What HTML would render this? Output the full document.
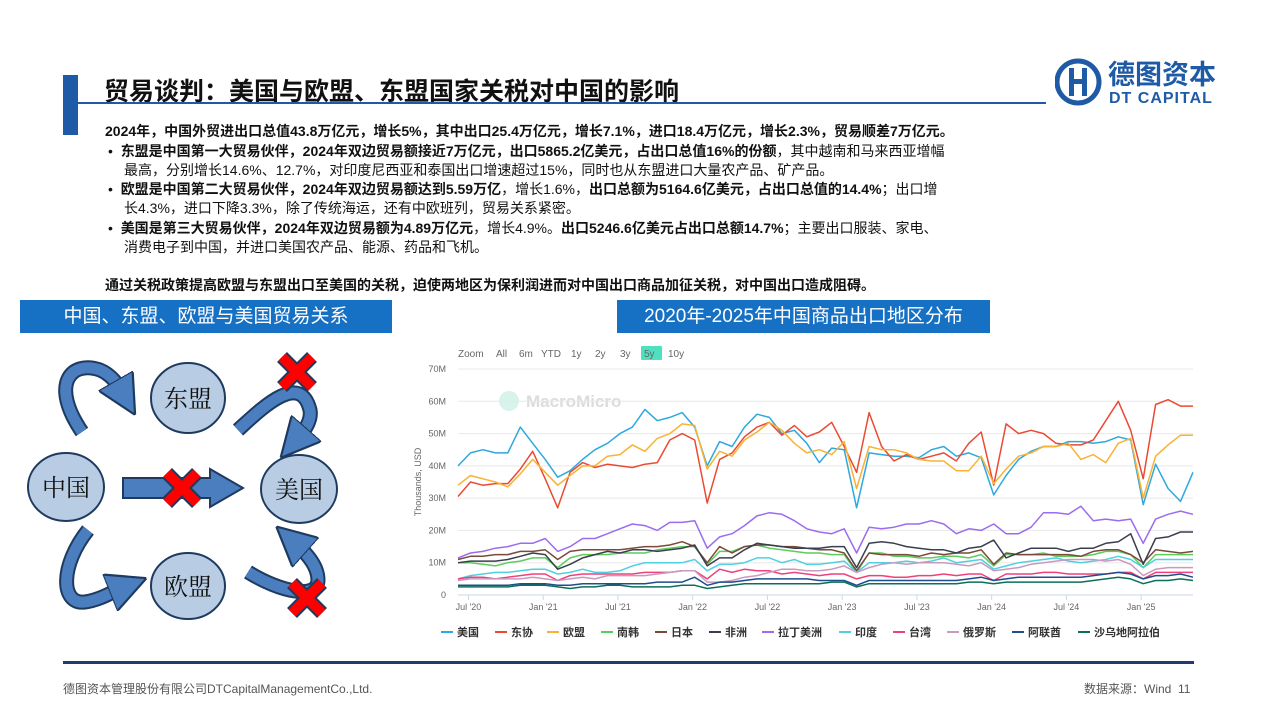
<!DOCTYPE html>
<html><head><meta charset="utf-8">
<style>
body{margin:0;width:1280px;height:720px;position:relative;background:#fff;overflow:hidden;font-family:"Liberation Sans","Noto Sans CJK SC",sans-serif;}
.abs{position:absolute;}
.t{position:absolute;font-size:14px;color:#111;white-space:nowrap;}
.b{font-weight:bold;}
.hdr{position:absolute;background:#1670c4;color:#fff;font-size:19px;text-align:center;line-height:33px;height:33px;top:300px;}
</style></head><body>
<div class="abs" style="left:63px;top:75px;width:15px;height:60px;background:#1f5aa6"></div>
<div class="abs" style="left:104px;top:72px;font-size:25px;font-weight:bold;color:#111;white-space:nowrap">贸易谈判：美国与欧盟、东盟国家关税对中国的影响</div>
<div class="abs" style="left:78px;top:102px;width:968px;height:2px;background:#1f5aa6"></div>
<svg class="abs" style="left:1055px;top:56px" width="170" height="52">
<circle cx="23" cy="26" r="21" fill="none" stroke="#1f5aa6" stroke-width="5"/>
<rect x="14" y="12" width="5" height="28" fill="#1f5aa6"/><rect x="27" y="12" width="5" height="28" fill="#1f5aa6"/><rect x="14" y="23" width="18" height="5" fill="#1f5aa6"/>
<text x="53" y="28" font-size="27" font-weight="bold" fill="#1f5aa6" font-family="Noto Sans CJK SC,sans-serif">德图资本</text>
<text x="54" y="47" font-size="16" font-weight="bold" fill="#1f5aa6" font-family="Liberation Sans,sans-serif" letter-spacing="1">DT CAPITAL</text>
</svg>
<div>
<div class="t b" style="left:105px;top:121px">2024年，中国外贸进出口总值43.8万亿元，增长5%，其中出口25.4万亿元，增长7.1%，进口18.4万亿元，增长2.3%，贸易顺差7万亿元。</div>
<div class="t" style="left:108px;top:141px">•&nbsp;&nbsp;<b>东盟是中国第一大贸易伙伴，2024年双边贸易额接近7万亿元，出口5865.2亿美元，占出口总值16%的份额</b>，其中越南和马来西亚增幅</div>
<div class="t" style="left:124px;top:160px">最高，分别增长14.6%、12.7%，对印度尼西亚和泰国出口增速超过15%，同时也从东盟进口大量农产品、矿产品。</div>
<div class="t" style="left:108px;top:179px">•&nbsp;&nbsp;<b>欧盟是中国第二大贸易伙伴，2024年双边贸易额达到5.59万亿</b>，增长1.6%，<b>出口总额为5164.6亿美元，占出口总值的14.4%</b>；出口增</div>
<div class="t" style="left:124px;top:198px">长4.3%，进口下降3.3%，除了传统海运，还有中欧班列，贸易关系紧密。</div>
<div class="t" style="left:108px;top:218px">•&nbsp;&nbsp;<b>美国是第三大贸易伙伴，2024年双边贸易额为4.89万亿元</b>，增长4.9%。<b>出口5246.6亿美元占出口总额14.7%</b>；主要出口服装、家电、</div>
<div class="t" style="left:124px;top:237px">消费电子到中国，并进口美国农产品、能源、药品和飞机。</div>
<div class="t b" style="left:105px;top:275px">通过关税政策提高欧盟与东盟出口至美国的关税，迫使两地区为保利润进而对中国出口商品加征关税，对中国出口造成阻碍。</div>
</div>
<div class="hdr" style="left:20px;width:372px">中国、东盟、欧盟与美国贸易关系</div>
<div class="hdr" style="left:617px;width:373px">2020年-2025年中国商品出口地区分布</div>

<svg class="abs" style="left:0;top:330px" width="400" height="320">
<defs><marker id="ah" markerWidth="3.6" markerHeight="3.6" refX="1.2" refY="1.8" orient="auto"><path d="M0,0 L3.6,1.8 L0,3.6 Z" fill="#4a7ebf" stroke="#1f3a5f" stroke-width="0.2"/></marker></defs>
<g fill="none" stroke-linecap="butt">
<g><path d="M82,102 C50,55 70,30 100,40 C112,45 118,55 122,62" stroke="#1f3a5f" stroke-width="15"/><path d="M82,102 C50,55 70,30 100,40 C112,45 118,55 122,62" stroke="#4a7ebf" stroke-width="11" marker-end="url(#ah)"/></g>
<g><path d="M238,100 C260,80 300,40 310,80 C312,90 305,100 298,108" stroke="#1f3a5f" stroke-width="15"/><path d="M238,100 C260,80 300,40 310,80 C312,90 305,100 298,108" stroke="#4a7ebf" stroke-width="11" marker-end="url(#ah)"/></g>
<g><path d="M88,200 C60,235 60,275 85,272 C100,270 112,262 122,258" stroke="#1f3a5f" stroke-width="15"/><path d="M88,200 C60,235 60,275 85,272 C100,270 112,262 122,258" stroke="#4a7ebf" stroke-width="11" marker-end="url(#ah)"/></g>
<g><path d="M248,242 C280,262 318,270 318,250 C318,235 305,222 296,214" stroke="#1f3a5f" stroke-width="15"/><path d="M248,242 C280,262 318,270 318,250 C318,235 305,222 296,214" stroke="#4a7ebf" stroke-width="11" marker-end="url(#ah)"/></g>
</g>
<path d="M123,148 L210,148 L210,139 L243,158 L210,177 L210,168 L123,168 Z" fill="#4a7ebf" stroke="#1f3a5f" stroke-width="2"/>
<g stroke="#1f3a5f" stroke-width="2" fill="#b8cce4" font-family="Liberation Serif,Noto Serif CJK SC,serif" font-size="24">
<g><ellipse cx="188" cy="68" rx="37" ry="35"/><text x="188" y="77" text-anchor="middle" fill="#111" stroke="none">东盟</text></g>
<g><ellipse cx="66" cy="157" rx="38" ry="34"/><text x="66" y="166" text-anchor="middle" fill="#111" stroke="none">中国</text></g>
<g><ellipse cx="299" cy="159" rx="38" ry="34"/><text x="299" y="168" text-anchor="middle" fill="#111" stroke="none">美国</text></g>
<g><ellipse cx="188" cy="256" rx="37" ry="33"/><text x="188" y="265" text-anchor="middle" fill="#111" stroke="none">欧盟</text></g>
</g>
<g stroke-linecap="butt">
<g transform="translate(182,158)"><path d="M-15,-15 L15,15 M15,-15 L-15,15" stroke="#1f3a5f" stroke-width="14"/><path d="M-15,-15 L15,15 M15,-15 L-15,15" stroke="#f00" stroke-width="10"/></g>
<g transform="translate(297,42)"><path d="M-15,-15 L15,15 M15,-15 L-15,15" stroke="#1f3a5f" stroke-width="14"/><path d="M-15,-15 L15,15 M15,-15 L-15,15" stroke="#f00" stroke-width="10"/></g>
<g transform="translate(307,268)"><path d="M-15,-15 L15,15 M15,-15 L-15,15" stroke="#1f3a5f" stroke-width="14"/><path d="M-15,-15 L15,15 M15,-15 L-15,15" stroke="#f00" stroke-width="10"/></g>
</g>
</svg>

<svg id="chart" class="abs" style="left:0;top:0" width="1280" height="720"></svg>

<div class="abs" style="left:63px;top:661px;width:1131px;height:3px;background:#1f3a6f"></div>
<div class="abs" style="left:63px;top:680px;font-size:12px;color:#555">德图资本管理股份有限公司DTCapitalManagementCo.,Ltd.</div>
<div class="abs" style="left:1084px;top:680px;font-size:12px;color:#555">数据来源：Wind&nbsp;&nbsp;11</div>

<script>
const yTicks=[0,10,20,30,40,50,60,70];
const yTickLabels=['0','10M','20M','30M','40M','50M','60M','70M'];
const xTickLabels=["Jul '20","Jan '21","Jul '21","Jan '22","Jul '22","Jan '23","Jul '23","Jan '24","Jul '24","Jan '25"];
const xTickIdx=[1,7,13,19,25,31,37,43,49,55];
const seriesNames=['美国','东协','欧盟','南韩','日本','非洲','拉丁美洲','印度','台湾','俄罗斯','阿联酋','沙乌地阿拉伯'];
const seriesColors=['#2ea8df','#ea4a33','#f9b233','#5ccc5c','#7a4a3a','#3a3f4e','#9a6cf0','#4fd0e0','#f0407a','#c99ac0','#1f4e8c','#0d6e5a'];
const usa=[40,44,45,44,44,52,47,42,36.5,38.5,42,45,47,50,52,57.5,54,55,56.5,52,40,47.5,46,52,56,55,50,51,47,41,45.5,45,27,44,43.5,43,43,42.5,45,46,43,44,42.5,31,37,42,44.5,46,46,47.5,47.5,47,47.5,49,48,28,40.5,33,29,38];
const asean=[30.5,35,34,34.5,34.5,39,44.5,36,27,38,41,39.5,40.5,40,39.5,40.5,41,48,50,48,28.5,42,44,49,52,53.5,49.5,52.5,49,50.5,53.5,46,38,56.5,46,41.5,43.5,42,43,44,41.5,47,50.5,34,53,50,51,50,47,46.5,46.5,48,54,60,51,36,59,60.5,58.5,58.5];
const eu=[34,37,36,35,33.5,37.5,42,38,34,37,40,40,43,43.5,46.5,44.5,48.5,50,53,52.5,39,44.5,43,48,50.5,53.5,51,47,44,45,43.5,47.5,33,46,45,45,44,42,41.5,41.5,38.5,38.5,43,34.5,39,43,44,46,46,47,42,43.5,41,47,48.5,30,43,46.5,49.5,49.5];
const korea=[10,10,9.5,9,10,10.5,11.5,11.5,8.5,11.5,12.5,12.5,12.5,13,13,13,14,14.5,15,15,9.5,13.5,13.5,15,15.5,14.5,14,13.5,13,13,12.5,12.5,7,13,13,12,12,11.5,11.5,12,12,11.5,12.5,9,12.5,12.5,12.5,13,12,12,12,12.5,13.5,13.5,12.5,8.5,12.5,12.5,12.5,12.5];
const japan=[11,12,12,12.5,12.5,13.5,13.5,14,11,13.5,14,14,14,14,14.5,15,15,15.5,16.5,15,10,15,13,15,15.5,15.5,15,15,14.5,14,14,13,7.5,13,12.5,12.5,12.5,12,13,12.5,13,13,14,9.5,13,12.5,12.5,12.5,12.5,12.5,12,13.5,14,14,12.5,10,14,13.5,13,13.5];
const africa=[10,10.5,10.5,10.5,11,12,13,12.5,8,9.5,11.5,12.5,13.5,13,14,14,13.5,14,14.5,15.5,9,11.5,11.5,14,16,15.5,15,14.5,14.5,14.5,15,15,8.5,16,16.5,16,15,14.5,14,14,13,14.5,15,17,11.5,13,14.5,14.5,14.5,13.5,14.5,14.5,16,16.5,19,9.5,17.5,18,19.5,19.5];
const latam=[11.5,13,13.5,14.5,15,16,16,17.5,13.5,15,17.5,17.5,19,20.5,22,21.5,20,22.5,22.5,23,14.5,18,19,21.5,24.5,25.5,25,23,20.5,19.5,19,20.5,13,21,20.5,21,22,22,23,22,19,20.5,20,22,19,19,21,25.5,25.5,25,27.5,23,23.5,23,23.5,16,23.5,25,26,25];
const india=[5,6,6.5,7,7,7.5,8,8,6.5,7,8,7,7,7.5,9,10,10,10,10,11,7.5,9.5,9.5,10,11.5,11.5,10,11,9.5,9.5,10,10.5,7,10,10,10,10.5,10,10.5,11.5,10,10.5,11,8,9,10,10.5,11,11.5,10.5,10,10.5,11,12,11,8.5,11,11,11,11];
const taiwan=[5,5.5,5.5,5,5.5,6,6.5,6.5,4.5,6,6.5,6.5,6.5,6.5,6.5,7,7,7,7.5,7.5,5,8,7,8,7.5,7.5,6.5,7,6.5,6,6.5,6.5,5,6,6,5.5,5.5,6,6,6.5,6,6.5,6.5,4.5,6.5,6.5,6.5,7,7,6.5,6.5,6.5,6.5,7,7,5,7,7,7,7];
const russia=[4.5,5,5,5,5,5,5.5,5,4.5,5,5.5,5,6,6,6,6,6.5,7,7.5,7.5,4,4,4.5,5.5,6,7,8,8,7.5,7.5,8,9,7,8.5,9.5,10,9.5,10,10,10,9.5,9,10,7.5,8,8.5,9.5,10,10.5,11,11,11,10.5,11,9.5,6,8,8.5,8.5,8.5];
const uae=[3,3,3,3,3,3.5,3.5,3.5,3,3,3.5,3.5,3.5,3.5,3.5,3.5,4,4,4,5.5,3,4,4,4.5,5,5,5,5,5,4.5,4.5,4.5,3,4.5,4.5,4.5,4.5,4.5,4.5,4.5,4.5,5,5.5,4.5,5,5.5,5.5,5.5,5.5,5.5,5.5,6,6.5,7,6.5,5,6,6,6.5,5.5];
const saudi=[2.5,2.5,2.5,2.5,2.5,3,3,3,2.5,2,2.5,2.5,3,3,2.5,2.5,2.5,2.5,3,3,2,2.5,3,3.5,3.5,3.5,3.5,3.5,3.5,3.5,4,4,2.5,3.5,3.5,3.5,3.5,3.5,3.5,3.5,3.5,4,4,3.5,4,4,4,4,4,4,4,4.5,5,5.5,5,3.5,4.5,4.5,5,4.5];
const seriesData=[usa,asean,eu,korea,japan,africa,latam,india,taiwan,russia,uae,saudi];

const NS='http://www.w3.org/2000/svg';
const svg=document.getElementById('chart');
const X0=458,X1=1193,Y0=595,Y70=369,N=60;
const xs=i=>X0+(X1-X0)*i/(N-1);
const ys=v=>Y0-(Y0-Y70)*v/70;
function mk(tag,attrs,parent){const e=document.createElementNS(NS,tag);for(const k in attrs)e.setAttribute(k,attrs[k]);(parent||svg).appendChild(e);return e;}

const zb=['Zoom','All','6m','YTD','1y','2y','3y','5y','10y'];
const zx=[458,496,519,541,571,595,620,644,668];
zb.forEach((t,i)=>{
  if(t==='5y'){const r=mk('rect',{x:zx[i]-3,y:346,width:21,height:14,fill:'#4fe0c0',rx:1});
  
  }
  const e=mk('text',{x:zx[i],y:357,'font-size':10,fill:'#666'});e.textContent=t;
  
  
});
const wm=mk('g',{});


mk('circle',{cx:509,cy:401,r:10,fill:'#d8f3ec'},wm);
const wt=mk('text',{x:526,y:407,'font-size':17,fill:'#dcdcdc','font-weight':'bold'},wm);wt.textContent='MacroMicro';

yTicks.forEach((v,i)=>{
  const g=mk('line',{x1:X0,x2:X1,y1:ys(v),y2:ys(v),stroke:i===0?'#ccd6eb':'#e8e8e8','stroke-width':1});
  
  
  const t=mk('text',{x:446,y:ys(v)+3,'font-size':9,fill:'#666','text-anchor':'end'});t.textContent=yTickLabels[i];
  
  
});
const yt=mk('text',{x:421,y:482,'font-size':9,fill:'#666','text-anchor':'middle',transform:'rotate(-90 421 482)'});yt.textContent='Thousands, USD';


xTickIdx.forEach((ix,i)=>{
  mk('line',{x1:xs(ix)-2,x2:xs(ix)-2,y1:Y0,y2:Y0+5,stroke:'#ccd6eb'});
  const t=mk('text',{x:xs(ix)-2,y:610,'font-size':9,fill:'#666','text-anchor':'middle'});t.textContent=xTickLabels[i];
  
  
});
seriesData.forEach((d,si)=>{
  const pts=d.map((v,i)=>xs(i).toFixed(1)+','+ys(v).toFixed(1)).join(' ');
  const p=mk('polyline',{points:pts,fill:'none',stroke:seriesColors[si],'stroke-width':1.5,'stroke-linejoin':'round'});
  
  
});
const lx=[441,495,547,601,655,709,762,839,893,947,1012,1078];
seriesNames.forEach((n,i)=>{
  const g=mk('g',{});
  
  
  mk('line',{x1:lx[i],x2:lx[i]+12,y1:632,y2:632,stroke:seriesColors[i],'stroke-width':2},g);
  const t=mk('text',{x:lx[i]+16,y:636,'font-size':11,'font-weight':'bold',fill:'#333'},g);t.textContent=n;
});
</script>
</body></html>
